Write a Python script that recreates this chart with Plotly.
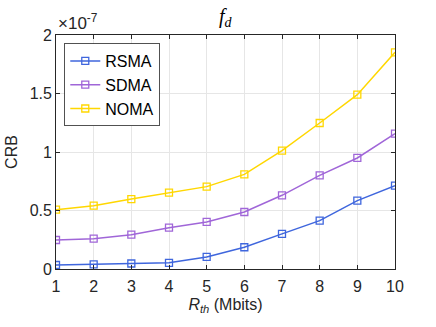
import plotly.graph_objects as go

x_vals = [1, 2, 3, 4, 5, 6, 7, 8, 9, 10]
rsma = [0.034, 0.040, 0.047, 0.053, 0.103, 0.186, 0.300, 0.413, 0.584, 0.712]
sdma = [0.248, 0.259, 0.293, 0.353, 0.402, 0.487, 0.630, 0.800, 0.949, 1.157]
noma = [0.507, 0.541, 0.598, 0.652, 0.704, 0.809, 1.011, 1.248, 1.490, 1.852]
series_names = ["RSMA", "SDMA", "NOMA"]
colors = ["#3F66DD", "#A066D8", "#FFD700"]

fig = go.Figure()
for name, vals, col in zip(series_names, [rsma, sdma, noma], colors):
    fig.add_trace(go.Scatter(
        x=x_vals, y=vals, name=name, mode="lines+markers",
        line=dict(color=col, width=1.5),
        marker=dict(symbol="square-open", size=7, color=col, line=dict(width=1.3)),
    ))

font_main = "Liberation Sans, Arial, sans-serif"
axis_common = dict(
    showline=True, linecolor="#262626", linewidth=0.8, mirror="ticks",
    ticks="inside", ticklen=4, tickcolor="#262626",
    showgrid=True, gridcolor="#E6E6E6", gridwidth=0.8,
    zeroline=False, automargin=False,
    tickfont=dict(family=font_main, size=16, color="#262626"),
)

fig.update_layout(
    width=436, height=327,
    margin=dict(l=56, r=41, t=35, b=58),
    paper_bgcolor="white", plot_bgcolor="white",
    showlegend=True,
    legend=dict(x=0.025, y=0.965, xanchor="left", yanchor="top",
                bgcolor="white", bordercolor="#262626", borderwidth=0.8,
                font=dict(family=font_main, size=16, color="black"),
                tracegroupgap=0, itemwidth=30),
    xaxis=dict(range=[1, 10], tickvals=x_vals, ticklabelstandoff=3, **axis_common,
               title=dict(text="<i>R</i><sub><i>th</i></sub> (Mbits)",
                          font=dict(family=font_main, size=16, color="#262626"), standoff=4)),
    yaxis=dict(range=[0, 2], tickvals=[0, 0.5, 1, 1.5, 2],
               ticktext=["0", "0.5", "1", "1.5", "2"], **axis_common,
               title=dict(text="CRB", font=dict(family=font_main, size=16, color="#262626"), standoff=8)),
    annotations=[
        dict(text="<i>f</i><sub><i>d</i></sub>", xref="paper", yref="paper",
             x=0.5, y=1.0, yanchor="bottom", xanchor="center", yshift=3, showarrow=False,
             font=dict(family="Liberation Serif, Times New Roman, serif", size=20, color="black")),
        dict(text="×10<sup>-7</sup>", xref="paper", yref="paper",
             x=0.0, y=1.0, xanchor="left", yanchor="bottom", showarrow=False,
             font=dict(family=font_main, size=17, color="#262626")),
    ],
)

fig.write_html("out.html", config={"displayModeBar": False},
               post_script="document.body.style.margin='0';document.body.style.overflow='hidden';")
